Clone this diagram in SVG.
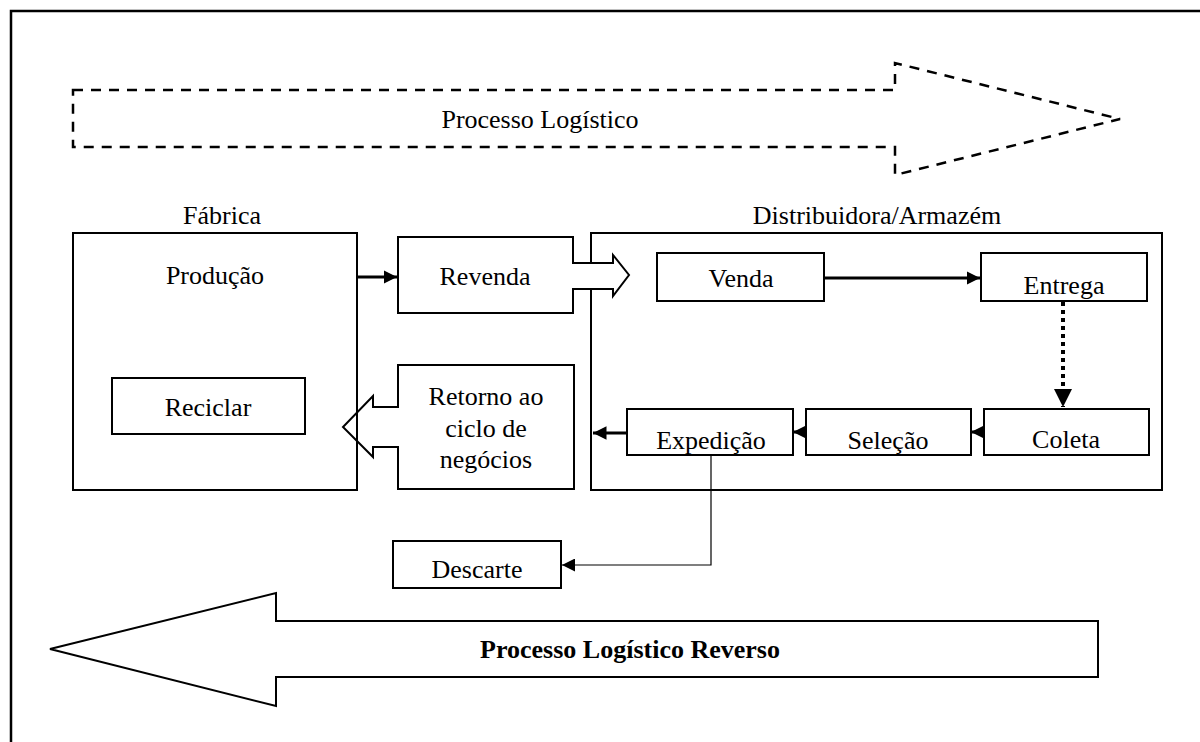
<svg xmlns="http://www.w3.org/2000/svg" width="1200" height="742" viewBox="0 0 1200 742">
<style>
text{font-family:"Liberation Serif","Times New Roman",serif;font-size:26px;fill:#000;text-anchor:middle}
.b{fill:#fff;stroke:#000;stroke-width:2}
.n{fill:none;stroke:#000;stroke-width:2}
.c{fill:none;stroke:#000;stroke-width:3}
</style>
<defs>
<marker id="ah" viewBox="0 0 10 10" refX="10" refY="5" markerWidth="4.5" markerHeight="4.5" orient="auto"><path d="M0,0L10,5L0,10z" fill="#000"/></marker>
<marker id="ah2" viewBox="0 0 10 10" refX="10" refY="5" markerWidth="13" markerHeight="13" markerUnits="userSpaceOnUse" orient="auto"><path d="M0,0L10,5L0,10z" fill="#000"/></marker>
<clipPath id="cEnt"><rect x="982" y="254" width="164" height="45"/></clipPath>
<clipPath id="cExp"><rect x="628" y="410" width="164" height="44"/></clipPath>
<clipPath id="cSel"><rect x="807" y="410" width="163" height="44"/></clipPath>
</defs>
<rect x="11" y="11" width="1250" height="800" fill="#fff" stroke="#000" stroke-width="2.5"/>

<g id="processo-logistico">
<path d="M73,90H895V63L1120,119L895,175V147H73Z" fill="none" stroke="#000" stroke-width="2.5" stroke-dasharray="10,8"/>
<text x="540" y="128">Processo Logístico</text>
</g>

<g id="fabrica">
<rect class="b" x="73" y="233" width="284" height="257"/>
<text x="222" y="224">Fábrica</text>
<text x="215" y="284">Produção</text>
</g>
<g id="reciclar">
<rect class="b" x="112" y="378" width="193" height="56"/>
<text x="208" y="416">Reciclar</text>
</g>

<g id="distribuidora">
<rect class="b" x="591" y="233" width="571" height="257"/>
<text x="877" y="224">Distribuidora/Armazém</text>
</g>

<g id="revenda">
<path class="b" d="M398,237H573V263H613V255L629,275L613,296V289H573V313H398Z"/>
<text x="485" y="285">Revenda</text>
</g>

<g id="retorno">
<path class="n" d="M398,365H574V489H398V447H373V457L343,427L373,396V407H398Z"/>
<text x="486" y="405">Retorno ao</text>
<text x="486" y="437">ciclo de</text>
<text x="486" y="468">negócios</text>
</g>

<g id="venda">
<rect class="b" x="657" y="253" width="167" height="48"/>
<text x="741" y="287">Venda</text>
</g>
<g id="entrega">
<rect class="b" x="981" y="253" width="166" height="48"/>
<text x="1064" y="294" clip-path="url(#cEnt)">Entrega</text>
</g>
<g id="expedicao">
<rect class="b" x="627" y="409" width="166" height="46"/>
<text x="711" y="449" clip-path="url(#cExp)">Expedição</text>
</g>
<g id="selecao">
<rect class="b" x="806" y="409" width="165" height="46"/>
<text x="888" y="449" clip-path="url(#cSel)">Seleção</text>
</g>
<g id="coleta">
<rect class="b" x="984" y="409" width="165" height="46"/>
<text x="1066" y="448">Coleta</text>
</g>
<g id="descarte">
<rect class="b" x="393" y="541" width="168" height="47"/>
<text x="477" y="578">Descarte</text>
</g>

<g id="processo-reverso">
<path class="b" d="M50,649L276,593V621H1098V677H276V706Z"/>
<text x="630" y="658" font-weight="bold" font-size="27">Processo Logístico Reverso</text>
</g>

<g id="connectors">
<line class="c" x1="357" y1="277" x2="397" y2="277" marker-end="url(#ah)"/>
<line class="c" x1="824" y1="278" x2="980" y2="278" marker-end="url(#ah)"/>
<line x1="1063" y1="302" x2="1063" y2="407" stroke="#000" stroke-width="4" stroke-dasharray="4,4" marker-end="url(#ah)"/>
<line class="c" x1="984" y1="432" x2="971" y2="432" marker-end="url(#ah)"/>
<line class="c" x1="806" y1="432" x2="793" y2="432" marker-end="url(#ah)"/>
<line class="c" x1="627" y1="433" x2="593" y2="433" marker-end="url(#ah)"/>
<path d="M711,455V565H562" fill="none" stroke="#000" stroke-width="1.2" marker-end="url(#ah2)"/>
</g>
</svg>
